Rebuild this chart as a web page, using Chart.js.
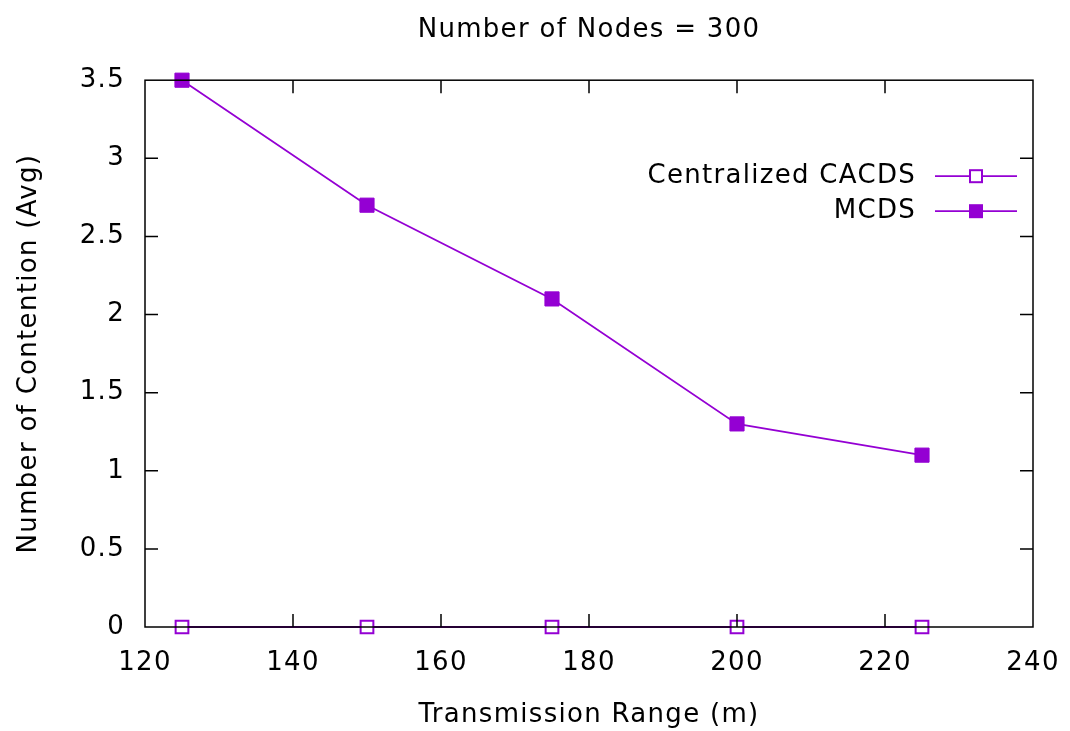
<!DOCTYPE html>
<html>
<head>
<meta charset="utf-8">
<script src="https://cdn.jsdelivr.net/npm/chart.js@4.4.1/dist/chart.umd.min.js"></script>
<style>
  html, body { margin: 0; padding: 0; background: #fff; }
  #wrap { width: 1070px; height: 731px; }
</style>
</head>
<body>
<div id="wrap"><canvas id="chart"></canvas></div>
<script>
// data
var ranges = [125, 150, 175, 200, 225];
var cacdsValues = [0, 0, 0, 0, 0];
var mcdsValues = [3.5, 2.7, 2.1, 1.3, 1.1];
var xTicks = [120, 140, 160, 180, 200, 220, 240];
var yTicks = [0, 0.5, 1, 1.5, 2, 2.5, 3, 3.5];
var seriesNames = ["Centralized CACDS", "MCDS"];

var purple = "#9400d3";
var fontFamily = "'DejaVu Sans', Verdana, sans-serif";
var fontSize = 26;
var spacing = "1.3px"; // the reference text is set a bit looser

function toPoints(values) {
  return ranges.map(function (x, i) {
    return { x: x, y: values[i] };
  });
}

// looser letter spacing, set before layout and before drawing
var spacingPlugin = {
  id: "spacing",
  beforeUpdate: function (chart) {
    chart.ctx.letterSpacing = spacing;
  },
  beforeDraw: function (chart) {
    chart.ctx.letterSpacing = spacing;
  },
};

// gnuplot style frame with inward ticks on all four sides
var framePlugin = {
  id: "frame",
  afterDatasetsDraw: function (chart) {
    var ctx = chart.ctx;
    var a = chart.chartArea;
    var xs = chart.scales.x;
    var ys = chart.scales.y;
    var tick = 13;
    ctx.save();
    ctx.strokeStyle = "#000";
    ctx.lineWidth = 1.5;
    ctx.strokeRect(a.left, a.top, a.right - a.left, a.bottom - a.top);
    ctx.beginPath();
    xTicks.forEach(function (v) {
      var px = xs.getPixelForValue(v);
      if (Math.abs(px - a.left) < 1 || Math.abs(px - a.right) < 1) return;
      ctx.moveTo(px, a.bottom);
      ctx.lineTo(px, a.bottom - tick);
      ctx.moveTo(px, a.top);
      ctx.lineTo(px, a.top + tick);
    });
    yTicks.forEach(function (v) {
      var py = ys.getPixelForValue(v);
      if (Math.abs(py - a.top) < 1 || Math.abs(py - a.bottom) < 1) return;
      ctx.moveTo(a.left, py);
      ctx.lineTo(a.left + tick, py);
      ctx.moveTo(a.right, py);
      ctx.lineTo(a.right - tick, py);
    });
    ctx.stroke();
    ctx.restore();
  },
};

// legend drawn the gnuplot way: text right aligned, then sample line + marker
var keyPlugin = {
  id: "key",
  afterDraw: function (chart) {
    var ctx = chart.ctx;
    var a = chart.chartArea;
    var textRight = a.right - 117;
    var lineLeft = a.right - 98;
    var lineRight = a.right - 16;
    var markX = (lineLeft + lineRight) / 2;
    ctx.save();
    ctx.font = fontSize + "px " + fontFamily;
    ctx.textAlign = "right";
    ctx.textBaseline = "middle";
    chart.data.datasets.forEach(function (ds, i) {
      var y = a.top + 96 + i * 35;
      ctx.fillStyle = "#000";
      ctx.fillText(ds.label, textRight, y);
      ctx.strokeStyle = ds.borderColor;
      ctx.lineWidth = ds.borderWidth;
      ctx.beginPath();
      ctx.moveTo(lineLeft, y);
      ctx.lineTo(lineRight, y);
      ctx.stroke();
      var s = 7;
      if (ds.pointBackgroundColor === "#fff") {
        ctx.fillStyle = "#fff";
        ctx.fillRect(markX - s + 1, y - s + 1, 2 * s - 2, 2 * s - 2);
        ctx.lineWidth = 2;
        ctx.strokeStyle = ds.pointBorderColor;
        ctx.strokeRect(markX - s + 1, y - s + 1, 2 * s - 2, 2 * s - 2);
      } else {
        ctx.fillStyle = ds.pointBackgroundColor;
        ctx.fillRect(markX - s, y - s, 2 * s, 2 * s);
      }
    });
    ctx.restore();
  },
};

var ctx = document.getElementById("chart").getContext("2d");
new Chart(ctx, {
  type: "line",
  data: {
    datasets: [
      {
        label: seriesNames[0],
        data: toPoints(cacdsValues),
        borderColor: purple,
        borderWidth: 1.8,
        pointStyle: "rect",
        pointRadius: 9,
        pointBorderWidth: 2,
        pointBorderColor: purple,
        pointBackgroundColor: "#fff",
        backgroundColor: "#fff",
        clip: false,
      },
      {
        label: seriesNames[1],
        data: toPoints(mcdsValues),
        borderColor: purple,
        borderWidth: 1.8,
        pointStyle: "rect",
        pointRadius: 10,
        pointBorderWidth: 1,
        pointBorderColor: purple,
        pointBackgroundColor: purple,
        backgroundColor: purple,
        clip: false,
      },
    ],
  },
  options: {
    responsive: true,
    maintainAspectRatio: false,
    animation: false,
    events: [],
    layout: { padding: { top: 0, right: 37, bottom: 0, left: 0 } },
    plugins: {
      legend: { display: false },
      tooltip: { enabled: false },
      title: {
        display: true,
        text: "Number of Nodes = 300",
        color: "#000",
        fullSize: false,
        font: { family: fontFamily, size: fontSize, weight: "normal" },
        padding: { top: 15, bottom: 34 },
      },
    },
    scales: {
      x: {
        type: "linear",
        position: "bottom",
        min: 120,
        max: 240,
        afterBuildTicks: function (scale) {
          scale.ticks = xTicks.map(function (v) { return { value: v }; });
        },
        afterFit: function (scale) {
          scale.height = 104;
          scale.paddingLeft = 0;
          scale.paddingRight = 0;
        },
        grid: { display: false, drawTicks: false },
        border: { display: false },
        ticks: {
          color: "#000",
          padding: 21,
          maxRotation: 0,
          font: { family: fontFamily, size: fontSize },
        },
        title: {
          display: true,
          text: "Transmission Range (m)",
          color: "#000",
          font: { family: fontFamily, size: fontSize },
          padding: { top: 0, bottom: 0 },
        },
      },
      y: {
        type: "linear",
        min: 0,
        max: 3.5,
        afterBuildTicks: function (scale) {
          scale.ticks = yTicks.map(function (v) { return { value: v }; });
        },
        afterFit: function (scale) {
          scale.width = 145;
          scale.paddingTop = 0;
          scale.paddingBottom = 0;
        },
        grid: { display: false, drawTicks: false },
        border: { display: false },
        ticks: {
          color: "#000",
          padding: 20,
          font: { family: fontFamily, size: fontSize },
          callback: function (v) {
            return String(v);
          },
        },
        title: {
          display: true,
          text: "Number of Contention (Avg)",
          color: "#000",
          font: { family: fontFamily, size: fontSize },
          padding: { top: 14, bottom: 0 },
        },
      },
    },
  },
  plugins: [spacingPlugin, framePlugin, keyPlugin],
});
</script>
</body>
</html>
